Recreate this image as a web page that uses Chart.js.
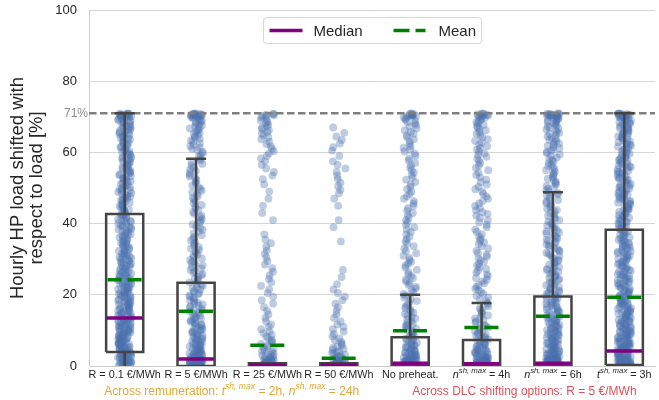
<!DOCTYPE html>
<html lang="en">
<head>
<meta charset="UTF-8">
<title>Hourly HP load shifted</title>
<script src="https://cdn.jsdelivr.net/npm/chart.js"></script>
<style>
  body { margin: 0; background: #fff; }
  .chart-box { width: 659px; height: 400px; }
</style>
</head>
<body>
<div class="chart-box"><canvas id="shiftChart"></canvas></div>
<script>
// x tick labels, "n^{...}" = italic letter with superscript
const categories = [
    "R = 0.1 €/MWh", "R = 5 €/MWh", "R = 25 €/MWh", "R = 50 €/MWh",
    "No preheat.", "n^{sh, max} = 4h", "n^{sh, max} = 6h", "t^{sh, max} = 3h"
];
const groupLabels = [
    "Across remuneration: t^{sh, max} = 2h, n^{sh, max} = 24h",
    "Across DLC shifting options: R = 5 €/MWh"
];
const groupCenters = [1.5, 5.6];
const groupColors = ["#e5a733", "#e0505a"];

const yTicks = [0, 20, 40, 60, 80, 100];
const capValue = 71;   // dashed reference line (71%)

// box statistics per category
const medians = [13.5, 2.0, 0.2, 0.2, 0.8, 0.6, 0.8, 4.2];
const means = [24.2, 15.4, 5.8, 2.2, 9.9, 10.8, 14.0, 19.3];
const q1 = [3.9, 0, 0, 0, 0, 0, 0, 0.3];
const q3 = [42.7, 23.4, 0.8, 0.8, 8.1, 7.3, 19.5, 38.3];
const whiskerLow = [0, 0, 0, 0, 0, 0, 0, 0];
const whiskerHigh = [71, 58.2, 0.8, 0.8, 20.0, 17.7, 48.8, 71];

// strip points: number of hours in each bin
const binEdges = [0, 2, 4, 6, 8, 10, 12, 14, 16, 18, 20, 22, 24, 26, 28, 30, 32, 34, 36,
    38, 40, 42, 44, 46, 48, 50, 52, 54, 56, 58, 60, 62, 64, 66, 68, 70, 71];
const countsR01 = [22, 20, 18, 17, 16, 15, 14, 13, 13, 12, 12, 11, 11, 10, 10, 10, 9, 9, 9, 9, 9, 8, 8, 8, 8, 8, 8, 8, 8, 8, 8, 8, 9, 9, 10, 16];
const countsR5 = [50, 20, 14, 11, 10, 9, 8, 7, 7, 6, 6, 6, 5, 5, 5, 5, 5, 4, 4, 4, 4, 4, 4, 4, 4, 4, 4, 4, 4, 4, 5, 5, 6, 7, 8, 16];
const countsR25 = [22, 9, 6, 5, 4, 3, 2, 2, 2, 2, 2, 2, 2, 2, 2, 2, 2, 2, 1, 0, 1, 1, 1, 1, 1, 1, 2, 2, 2, 3, 3, 3, 4, 5, 5, 6];
const countsR50 = [20, 9, 6, 4, 3, 3, 2, 2, 2, 2, 2, 1, 1, 1, 0, 0, 0, 1, 0, 1, 1, 0, 1, 1, 2, 2, 2, 2, 2, 1, 2, 2, 2, 1, 0, 0];
const countsNoPre = [36, 16, 11, 9, 7, 6, 5, 5, 4, 4, 4, 4, 4, 3, 4, 3, 3, 3, 3, 3, 3, 3, 3, 3, 3, 3, 3, 3, 3, 3, 4, 3, 4, 4, 6, 10];
const counts4h = [36, 16, 11, 9, 7, 6, 5, 5, 4, 4, 4, 4, 4, 4, 4, 4, 3, 4, 3, 3, 3, 4, 3, 3, 3, 3, 3, 3, 3, 4, 4, 4, 4, 5, 6, 10];
const counts6h = [50, 20, 15, 13, 12, 11, 10, 9, 9, 8, 8, 7, 7, 7, 6, 6, 6, 6, 6, 6, 5, 5, 5, 5, 5, 5, 5, 5, 5, 5, 6, 6, 6, 7, 9, 16];
const counts3h = [36, 22, 18, 16, 14, 13, 12, 12, 11, 11, 10, 10, 10, 9, 9, 9, 9, 9, 8, 8, 8, 8, 8, 8, 8, 8, 8, 8, 8, 8, 8, 8, 9, 9, 10, 16];
const pointCounts = [countsR01, countsR5, countsR25, countsR50, countsNoPre, counts4h, counts6h, counts3h];

const FONT = "'Liberation Sans', Arial, sans-serif";
const X_MIN = -0.5, X_MAX = 7.43;
const BOX_HALF = 0.26, CAP_HALF = 0.14, MED_HALF = 0.25, MEAN_HALF = 0.24;
const JITTER = 0.19;

// sideways spread of the strip points (fixed hash, same every run)
let nPoint = 0;
function jitter() {
    nPoint++;
    const h = Math.sin(nPoint * 12.9898) * 43758.5453;
    return (h - Math.floor(h) - 0.5) * JITTER;
}

const stripPoints = [];
pointCounts.forEach((counts, ci) => {
    counts.forEach((c, b) => {
        const lo = binEdges[b], hi = binEdges[b + 1];
        for (let k = 0; k < c; k++) {
            stripPoints.push({ x: ci + jitter(), y: lo + (k + 0.5) * (hi - lo) / c });
        }
    });
});

function segments(values, half) {
    const out = [];
    values.forEach((v, i) => {
        out.push({ x: i - half, y: v }, { x: i + half, y: v }, { x: i, y: null });
    });
    return out;
}

const boxPath = [];
const whiskerPath = [];
categories.forEach((_, i) => {
    boxPath.push(
        { x: i - BOX_HALF, y: q1[i] }, { x: i - BOX_HALF, y: q3[i] },
        { x: i + BOX_HALF, y: q3[i] }, { x: i + BOX_HALF, y: q1[i] },
        { x: i - BOX_HALF, y: q1[i] }, { x: i, y: null }
    );
    if (whiskerHigh[i] > q3[i]) {
        whiskerPath.push({ x: i, y: q3[i] }, { x: i, y: whiskerHigh[i] }, { x: i, y: null });
        whiskerPath.push({ x: i - CAP_HALF, y: whiskerHigh[i] }, { x: i + CAP_HALF, y: whiskerHigh[i] }, { x: i, y: null });
    }
    if (whiskerLow[i] < q1[i]) {
        whiskerPath.push({ x: i, y: q1[i] }, { x: i, y: whiskerLow[i] }, { x: i, y: null });
    }
});

// text with "a^{sup}" parts, centred on cx
function drawRich(ctx, str, cx, cy, size, color) {
    const parts = [];
    const re = /([A-Za-z])\^\{([^}]*)\}/g;
    let last = 0, m;
    while ((m = re.exec(str))) {
        if (m.index > last) parts.push({ t: str.slice(last, m.index), f: `${size}px ${FONT}`, dy: 0 });
        parts.push({ t: m[1], f: `italic ${size}px ${FONT}`, dy: 0 });
        parts.push({ t: m[2], f: `italic ${(size * 0.72).toFixed(1)}px ${FONT}`, dy: -size * 0.42 });
        last = re.lastIndex;
    }
    if (last < str.length) parts.push({ t: str.slice(last), f: `${size}px ${FONT}`, dy: 0 });
    let total = 0;
    parts.forEach(p => { ctx.font = p.f; p.w = ctx.measureText(p.t).width; total += p.w; });
    let x = cx - total / 2;
    ctx.fillStyle = color;
    ctx.textAlign = "left";
    ctx.textBaseline = "middle";
    parts.forEach(p => { ctx.font = p.f; ctx.fillText(p.t, x, cy + p.dy); x += p.w; });
}

const extrasPlugin = {
    id: "extras",
    afterDraw(chart) {
        const { ctx, chartArea, scales } = chart;
        const xs = scales.x, ys = scales.y;
        ctx.save();
        // 71% label
        ctx.font = `12px ${FONT}`;
        ctx.fillStyle = "#8c8c8c";
        ctx.textAlign = "right";
        ctx.textBaseline = "middle";
        ctx.fillText(capValue + "%", chartArea.left - 1, ys.getPixelForValue(capValue));
        // category labels
        categories.forEach((lab, i) => drawRich(ctx, lab, xs.getPixelForValue(i), 375, 10.8, "#262626"));
        groupLabels.forEach((lab, i) => drawRich(ctx, lab, xs.getPixelForValue(groupCenters[i]), 392, 12, groupColors[i]));
        // legend
        const lw = 218, lh = 26;
        const L = Math.round((chartArea.left + chartArea.right) / 2 - lw / 2) + 0.5;
        const T = chartArea.top + 7.5;
        ctx.fillStyle = "rgba(255,255,255,0.9)";
        ctx.strokeStyle = "#d6d6d6";
        ctx.lineWidth = 1;
        ctx.beginPath();
        ctx.roundRect(L, T, lw, lh, 3);
        ctx.fill();
        ctx.stroke();
        const my = T + lh / 2;
        ctx.lineWidth = 3.5;
        ctx.strokeStyle = "#800080";
        ctx.beginPath(); ctx.moveTo(L + 6, my); ctx.lineTo(L + 39, my); ctx.stroke();
        ctx.strokeStyle = "#008000";
        ctx.setLineDash([16, 6]);
        ctx.beginPath(); ctx.moveTo(L + 130, my); ctx.lineTo(L + 162, my); ctx.stroke();
        ctx.setLineDash([]);
        ctx.font = `15px ${FONT}`;
        ctx.fillStyle = "#262626";
        ctx.textAlign = "left";
        ctx.fillText("Median", L + 50, my + 1);
        ctx.fillText("Mean", L + 175, my + 1);
        ctx.restore();
    }
};

new Chart(document.getElementById("shiftChart"), {
    type: "scatter",
    data: {
        datasets: [
            {
                type: "line", label: "Mean", data: segments(means, MEAN_HALF), order: 0,
                borderColor: "#008000", borderWidth: 3.5, borderDash: [14, 6],
                pointRadius: 0, spanGaps: false, clip: false
            },
            {
                type: "line", label: "Median", data: segments(medians, MED_HALF), order: 1,
                borderColor: "#800080", borderWidth: 3.5,
                pointRadius: 0, spanGaps: false
            },
            {
                type: "line", label: "whiskers", data: whiskerPath, order: 2,
                borderColor: "#444444", borderWidth: 2.5,
                pointRadius: 0, spanGaps: false
            },
            {
                type: "line", label: "boxes", data: boxPath, order: 3,
                borderColor: "#444444", borderWidth: 2.5, borderJoinStyle: "miter",
                pointRadius: 0, spanGaps: false
            },
            {
                type: "line", label: "cap", data: [{ x: X_MIN, y: capValue }, { x: X_MAX, y: capValue }], order: 4,
                borderColor: "#7f7f7f", borderWidth: 2.5, borderDash: [7.5, 3.5],
                pointRadius: 0
            },
            {
                label: "hours", data: stripPoints, order: 5,
                backgroundColor: "rgba(76,114,176,0.36)", borderWidth: 0,
                pointRadius: 3.9, clip: 0
            }
        ]
    },
    options: {
        responsive: true,
        maintainAspectRatio: false,
        animation: false,
        layout: { padding: { top: 10, right: 0, left: 0, bottom: 0 } },
        plugins: { legend: { display: false }, tooltip: { enabled: false } },
        scales: {
            x: {
                type: "linear", min: X_MIN, max: X_MAX,
                grid: { display: false },
                ticks: { display: false },
                border: { color: "#cccccc", width: 1 },
                afterFit: s => { s.height = 34; }
            },
            y: {
                min: 0, max: 100,
                afterBuildTicks: s => { s.ticks = yTicks.map(v => ({ value: v })); },
                ticks: { font: { family: FONT, size: 13 }, color: "#262626", padding: 12 },
                grid: { color: "#d6d6d6", lineWidth: 1, drawTicks: false },
                border: { color: "#cccccc", width: 1 },
                title: {
                    display: true,
                    text: ["Hourly HP load shifted with", "respect to load [%]"],
                    font: { family: FONT, size: 18.5, lineHeight: 1.05 },
                    color: "#262626",
                    padding: { top: 8, bottom: 0 }
                },
                afterFit: s => { s.width = 89; s.paddingTop = 0; s.paddingBottom = 0; }
            }
        }
    },
    plugins: [extrasPlugin]
});
</script>
</body>
</html>
